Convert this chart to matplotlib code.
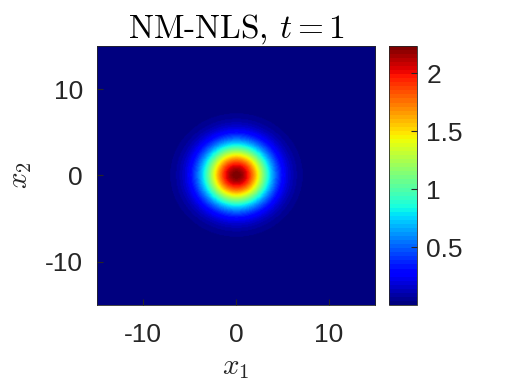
import numpy as np
import matplotlib
matplotlib.use('Agg')
import matplotlib.pyplot as plt

plt.rcParams['mathtext.fontset'] = 'cm'
plt.rcParams['font.family'] = ['Liberation Sans', 'DejaVu Sans']

# grid and bump parameters
x_lim = [-15, 15]
n_grid = 301
peak = 2.235
width = 3.5
x_ticks = [-10, 0, 10]
cb_ticks = [0.5, 1, 1.5, 2]
cb_labels = ['0.5', '1', '1.5', '2']

x1 = np.linspace(x_lim[0], x_lim[1], n_grid)
x2 = np.linspace(x_lim[0], x_lim[1], n_grid)
X1, X2 = np.meshgrid(x1, x2)
U = peak * np.exp(-(X1**2 + X2**2) / width**2)

tc = '#262626'
fig = plt.figure(figsize=(5.05, 3.92), dpi=100)
ax = fig.add_axes([0.192, 0.222, 0.551, 0.661])
cax = fig.add_axes([0.770, 0.222, 0.055, 0.661])

im = ax.imshow(U, extent=[x_lim[0], x_lim[1], x_lim[0], x_lim[1]], origin='lower',
               cmap=plt.get_cmap('jet', 64), vmin=U.min(), vmax=U.max(),
               interpolation='bilinear', aspect='auto')
ax.set_xlim(x_lim)
ax.set_ylim(x_lim)
ax.set_xticks(x_ticks)
ax.set_yticks(x_ticks)
ax.set_xticklabels([str(t) for t in x_ticks])
ax.set_yticklabels([str(t) for t in x_ticks])
ax.tick_params(direction='in', labelsize=19, colors=tc, labelcolor=tc, length=4)
ax.tick_params(axis='x', pad=13)
ax.tick_params(axis='y', pad=10)
for s in ax.spines.values():
    s.set_color(tc)
    s.set_linewidth(0.6)

ax.set_xlabel(r'$x_1$', fontsize=21, color=tc, labelpad=4)
ax.set_ylabel(r'$x_2$', fontsize=21, color=tc, labelpad=8)
ax.set_title('NM-NLS, $t=1$', fontsize=24, family='cmr10', pad=6)

cb = fig.colorbar(im, cax=cax)
cb.set_ticks(cb_ticks)
cb.set_ticklabels(cb_labels)
cb.ax.tick_params(direction='in', labelsize=19, colors=tc, labelcolor=tc, length=4, pad=7)
cb.outline.set_edgecolor(tc)
cb.outline.set_linewidth(0.6)

fig.savefig('out.png', dpi=100)
